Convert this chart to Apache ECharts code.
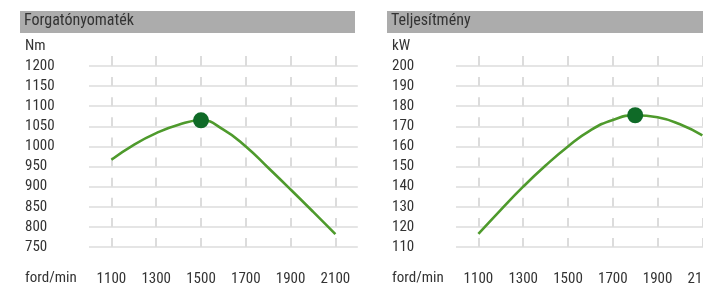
<!DOCTYPE html>
<html>
<head>
<meta charset="utf-8">
<script src="https://cdn.jsdelivr.net/npm/echarts@6/dist/echarts.min.js"></script>
<style>
  html, body { margin: 0; padding: 0; background: #fff; }
  #con { width: 703px; height: 284px; }
</style>
</head>
<body>
<div id="con"></div>
<script>
// fordulatszam (ford/min)
var rpm = [1100, 1200, 1300, 1400, 1500, 1600, 1700, 1800, 1900, 2000, 2100];
var rpmTicks = [1100, 1300, 1500, 1700, 1900, 2100];
// nyomatek (Nm)
var torque = [967, 1004, 1033, 1054, 1065, 1042, 1000, 947, 893, 838, 782];
// teljesitmeny (kW)
var power = [116.5, 128.5, 140, 150.5, 160, 168, 173.2, 175.5, 174.5, 171, 165.5];

var torqueAxis = { min: 750, max: 1200, interval: 50 };
var powerAxis = { min: 110, max: 200, interval: 10 };

var font = "'Liberation Sans Narrow', 'Roboto Condensed', 'Liberation Sans', sans-serif";
var textColor = '#333';
var gridColor = '#dcdcdc';
var lineColor = '#4e9a2c';
var dotColor = '#0f6a27';

// one empty category on each side so the grid lines run past 1100 and 2100
var cats = [rpm[0] - 100].concat(rpm, [rpm[rpm.length - 1] + 100]).map(String);
var isTick = function(i, v) { return rpmTicks.indexOf(+v) >= 0; };

var withPeak = function(vals) {
    var peak = vals.indexOf(Math.max.apply(null, vals));
    var out = ['-'];
    for (var i = 0; i < vals.length; i++) {
        if (i === peak) {
            out.push({ value: vals[i], symbol: 'circle', symbolSize: 16, itemStyle: { color: dotColor } });
        } else {
            out.push(vals[i]);
        }
    }
    out.push('-');
    return out;
};

var xBottom = function(gi) {
    return {
        type: 'category', gridIndex: gi, data: cats, boundaryGap: false,
        axisLine: { show: false }, axisTick: { show: false },
        axisLabel: { interval: isTick, margin: 25, color: textColor, fontFamily: font, fontSize: 15 },
        splitLine: { show: true, interval: isTick,
            lineStyle: { color: gridColor, width: 2, type: [9, 11.11], dashOffset: 9 } }
    };
};
var xTop = function(gi) {
    return {
        type: 'category', gridIndex: gi, data: cats, boundaryGap: false, position: 'top',
        axisLine: { show: false }, axisLabel: { show: false },
        axisTick: { show: true, interval: isTick, length: 10, inside: false,
            lineStyle: { color: gridColor, width: 2 } },
        splitLine: { show: false }
    };
};
var yAx = function(gi, r) {
    return {
        type: 'value', gridIndex: gi, min: r.min, max: r.max, interval: r.interval,
        axisLine: { show: false }, axisTick: { show: false },
        axisLabel: { align: 'left', margin: 64, color: textColor, fontFamily: font, fontSize: 15,
            padding: [8, 0, 0, 0], formatter: function(v) { return String(v); } },
        splitLine: { lineStyle: { color: gridColor, width: 1.5 } }
    };
};

var txt = function(x, y, s, size) {
    return { type: 'text', left: x, top: y,
        style: { text: s, fill: textColor, font: size + 'px ' + font } };
};

var myChart = echarts.init(document.getElementById('con'));
var option = {
    animation: false,
    grid: [
        { left: 89, top: 66, width: 268.8, height: 181, outerBoundsMode: 'none' },
        { left: 456, top: 66, width: 268.8, height: 181, outerBoundsMode: 'none' }
    ],
    xAxis: [xBottom(0), xTop(0), xBottom(1), xTop(1)],
    yAxis: [yAx(0, torqueAxis), yAx(1, powerAxis)],
    graphic: [
        { type: 'rect', shape: { x: 20, y: 11, width: 335, height: 22 }, style: { fill: '#acacac' } },
        { type: 'rect', shape: { x: 387, y: 11, width: 316, height: 22 }, style: { fill: '#acacac' } },
        txt(24, 13, 'Forgatónyomaték', 16),
        txt(391, 13, 'Teljesítmény', 16),
        txt(25, 39, 'Nm', 15),
        txt(392, 39, 'kW', 15),
        txt(25, 271, 'ford/min', 15),
        txt(392, 271, 'ford/min', 15)
    ],
    series: [
        { type: 'line', xAxisIndex: 0, yAxisIndex: 0, data: withPeak(torque), smooth: 0.5,
          smoothConstraint: false, showAllSymbol: true,
          symbol: 'none', lineStyle: { color: lineColor, width: 2.6 }, itemStyle: { color: lineColor } },
        { type: 'line', xAxisIndex: 2, yAxisIndex: 1, data: withPeak(power), smooth: 0.5,
          smoothConstraint: false, showAllSymbol: true,
          symbol: 'none', lineStyle: { color: lineColor, width: 2.6 }, itemStyle: { color: lineColor } }
    ]
};
myChart.setOption(option);
</script>
</body>
</html>
